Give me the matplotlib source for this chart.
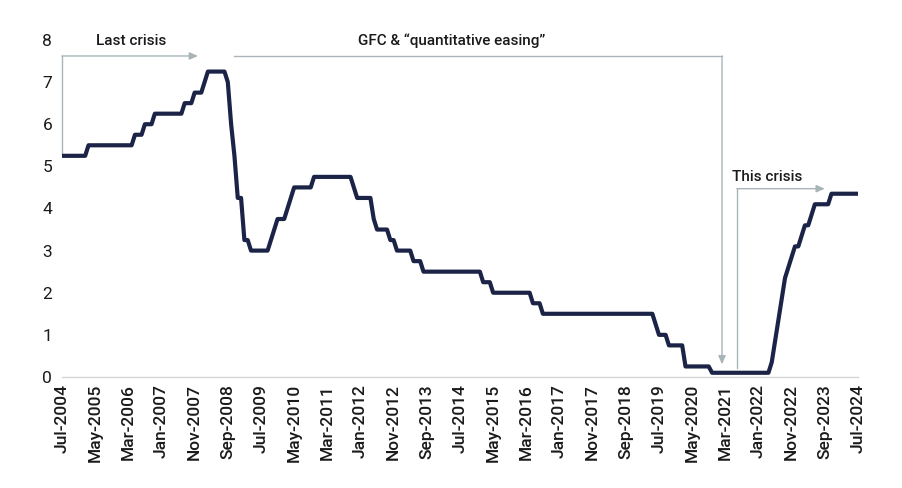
import matplotlib
import matplotlib.pyplot as plt
import numpy as np

matplotlib.use("agg")

plt.rcParams["font.family"] = ["Roboto", "DejaVu Sans"]

# monthly cash rate, Jul-2004 .. Jul-2024
rate_2004 = [5.25] * 6
rate_2005 = [5.25, 5.25] + [5.5] * 10
rate_2006 = [5.5, 5.5, 5.5, 5.5, 5.75, 5.75, 5.75, 6.0, 6.0, 6.0, 6.25, 6.25]
rate_2007 = [6.25] * 7 + [6.5, 6.5, 6.5, 6.75, 6.75]
rate_2008 = [6.75, 7.0, 7.25, 7.25, 7.25, 7.25, 7.25, 7.25, 7.0, 6.0, 5.25, 4.25]
rate_2009 = [4.25, 3.25, 3.25, 3.0, 3.0, 3.0, 3.0, 3.0, 3.0, 3.25, 3.5, 3.75]
rate_2010 = [3.75, 3.75, 4.0, 4.25, 4.5, 4.5, 4.5, 4.5, 4.5, 4.5, 4.75, 4.75]
rate_2011 = [4.75] * 10 + [4.5, 4.25]
rate_2012 = [4.25, 4.25, 4.25, 4.25, 3.75, 3.5, 3.5, 3.5, 3.5, 3.25, 3.25, 3.0]
rate_2013 = [3.0, 3.0, 3.0, 3.0, 2.75, 2.75, 2.75, 2.5, 2.5, 2.5, 2.5, 2.5]
rate_2014 = [2.5] * 12
rate_2015 = [2.5, 2.25, 2.25, 2.25] + [2.0] * 8
rate_2016 = [2.0, 2.0, 2.0, 2.0, 1.75, 1.75, 1.75, 1.5, 1.5, 1.5, 1.5, 1.5]
rate_2017 = [1.5] * 12
rate_2018 = [1.5] * 12
rate_2019 = [1.5, 1.5, 1.5, 1.5, 1.5, 1.25, 1.0, 1.0, 1.0, 0.75, 0.75, 0.75]
rate_2020 = [0.75, 0.75, 0.25, 0.25, 0.25, 0.25, 0.25, 0.25, 0.25, 0.25, 0.1, 0.1]
rate_2021 = [0.1] * 12
rate_2022 = [0.1, 0.1, 0.1, 0.1, 0.35, 0.85, 1.35, 1.85, 2.35, 2.6, 2.85, 3.1]
rate_2023 = [3.1, 3.35, 3.6, 3.6, 3.85, 4.1, 4.1, 4.1, 4.1, 4.1, 4.35, 4.35]
rate_2024 = [4.35] * 7

rates = (rate_2004 + rate_2005 + rate_2006 + rate_2007 + rate_2008 + rate_2009
         + rate_2010 + rate_2011 + rate_2012 + rate_2013 + rate_2014 + rate_2015
         + rate_2016 + rate_2017 + rate_2018 + rate_2019 + rate_2020 + rate_2021
         + rate_2022 + rate_2023 + rate_2024)

tick_labels = ["Jul-2004", "May-2005", "Mar-2006", "Jan-2007", "Nov-2007",
               "Sep-2008", "Jul-2009", "May-2010", "Mar-2011", "Jan-2012",
               "Nov-2012", "Sep-2013", "Jul-2014", "May-2015", "Mar-2016",
               "Jan-2017", "Nov-2017", "Sep-2018", "Jul-2019", "May-2020",
               "Mar-2021", "Jan-2022", "Nov-2022", "Sep-2023", "Jul-2024"]

LINE = "#1b2447"
GREY = "#a9b4b9"
TEXT = "#1a1a1a"

months = np.arange(len(rates))

fig = plt.figure(figsize=(9.02, 4.88), dpi=100)
ax = fig.add_axes([0.0687, 0.2275, 0.8825, 0.6906])

ax.plot(months, rates, color=LINE, linewidth=3.0, solid_joinstyle="round",
        solid_capstyle="butt", zorder=5)

ax.set_xlim(0, len(rates) - 1)
ax.set_ylim(0, 8)
ax.set_xticks(np.arange(0, len(rates), 10))
ax.set_xticklabels(tick_labels, rotation=90, fontsize=12.5, color=TEXT,
                   fontweight="medium")
ax.set_yticks(range(0, 9))
ax.tick_params(axis="y", labelsize=12.5, colors=TEXT, length=0, pad=7)
ax.tick_params(axis="x", length=0, pad=5, colors=TEXT)

for s in ("top", "left", "right"):
    ax.spines[s].set_visible(False)
ax.spines["bottom"].set_color("#d3d6d8")
ax.spines["bottom"].set_linewidth(1.0)

arrow = dict(arrowstyle="-|>,head_length=0.5,head_width=0.22", color=GREY,
             lw=1.0, shrinkA=0, shrinkB=0)

# Last crisis
ax.plot([0, 0], [5.3, 7.62], color=GREY, lw=1.0, clip_on=False, zorder=3)
ax.annotate("", xy=(41, 7.62), xytext=(0, 7.62), arrowprops=arrow,
            annotation_clip=False)
ax.text(21, 7.98, "Last crisis", ha="center", va="center", fontsize=11,
        color=TEXT, fontweight="medium")

# GFC & QE
ax.plot([52, 199], [7.62, 7.62], color=GREY, lw=1.0, clip_on=False, zorder=3)
ax.annotate("", xy=(199, 0.3), xytext=(199, 7.62), arrowprops=arrow,
            annotation_clip=False)
ax.text(117.5, 7.98, "GFC & \u201cquantitative easing\u201d", ha="center",
        va="center", fontsize=11, color=TEXT, fontweight="medium")

# This crisis
ax.plot([203.5, 203.5], [0.22, 4.47], color=GREY, lw=1.0, zorder=3)
ax.annotate("", xy=(230, 4.47), xytext=(203.5, 4.47), arrowprops=arrow,
            annotation_clip=False)
ax.text(212.5, 4.75, "This crisis", ha="center", va="center", fontsize=11,
        color=TEXT, fontweight="medium")

fig.savefig("out.png", dpi=100, facecolor="white")
plt.close(fig)
